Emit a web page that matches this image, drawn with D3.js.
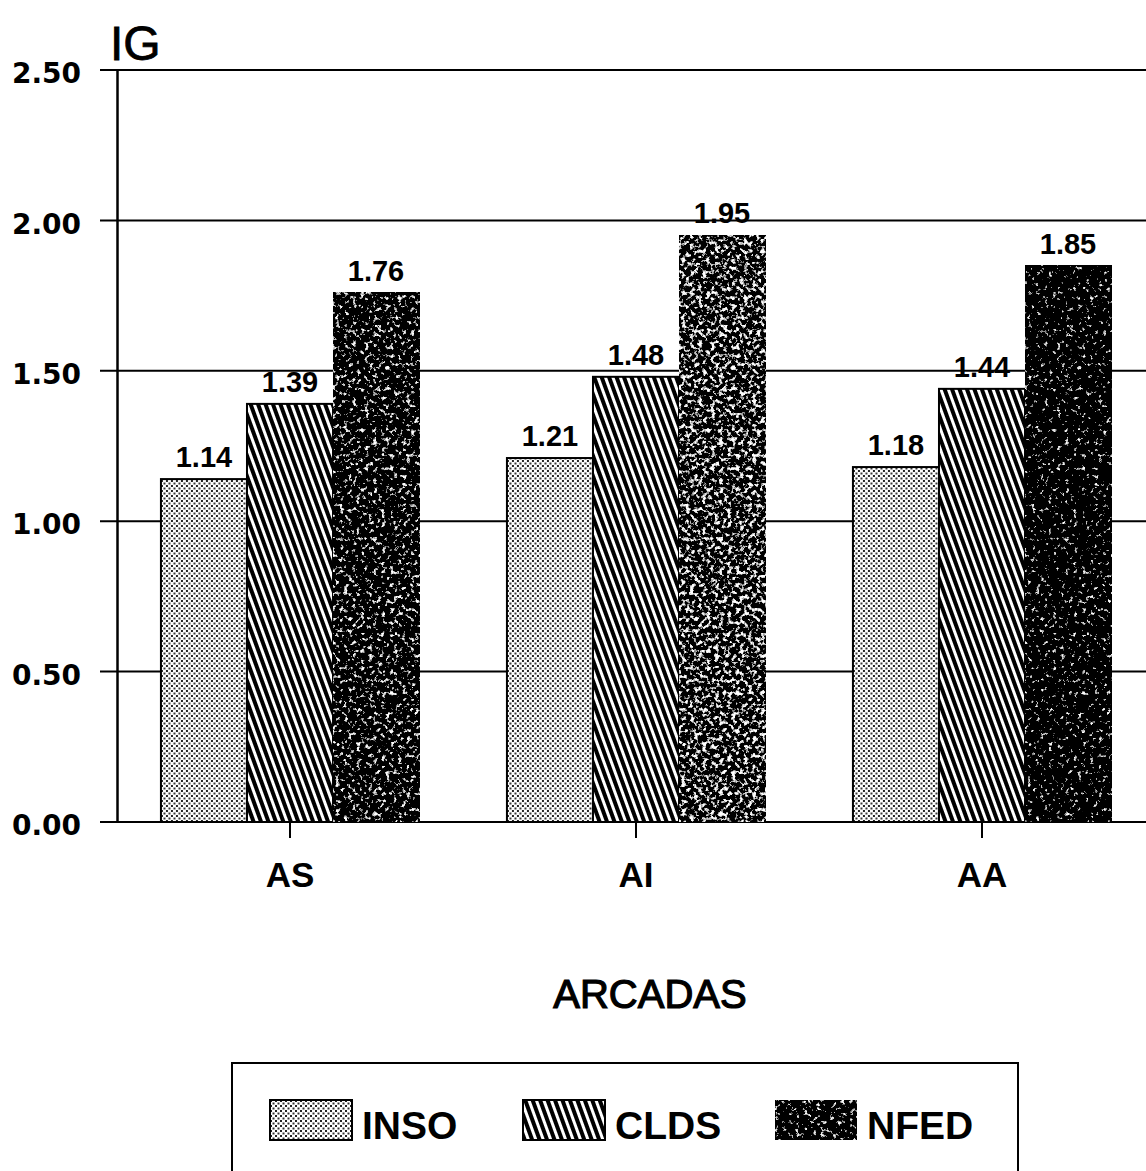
<!DOCTYPE html>
<html>
<head>
<meta charset="utf-8">
<script src="https://cdnjs.cloudflare.com/ajax/libs/d3/7.8.5/d3.min.js"></script>
<style>
  body { margin: 0; background: #fff; }
  text { font-family: "Liberation Sans", Arial, sans-serif; fill: #000; }
</style>
</head>
<body>
<div id="chart"></div>
<script>
// data
const categories = ["AS", "AI", "AA"];
const series = ["INSO", "CLDS", "NFED"];
const inso = [1.14, 1.21, 1.18];
const clds = [1.39, 1.48, 1.44];
const nfed = [1.76, 1.95, 1.85];
const yTicks = [0, 0.5, 1.0, 1.5, 2.0, 2.5];
const seriesValues = [inso, clds, nfed];

const W = 1146, H = 1171;
const svg = d3.select("#chart").append("svg")
    .attr("width", W).attr("height", H);

const defs = svg.append("defs");

// INSO: fine grey dots
const pDot = defs.append("pattern").attr("id", "pat-inso")
    .attr("patternUnits", "userSpaceOnUse").attr("width", 5).attr("height", 5);
pDot.append("rect").attr("width", 5).attr("height", 5).attr("fill", "#fff");
pDot.append("rect").attr("x", 0).attr("y", 0).attr("width", 2).attr("height", 2).attr("fill", "#222");
pDot.append("rect").attr("x", 2.5).attr("y", 2.5).attr("width", 2).attr("height", 2).attr("fill", "#333");

// CLDS: diagonal hatching "\\\"
const pHatch = defs.append("pattern").attr("id", "pat-clds")
    .attr("patternUnits", "userSpaceOnUse").attr("width", 7).attr("height", 10)
    .attr("patternTransform", "rotate(-20)");
pHatch.append("rect").attr("width", 7).attr("height", 10).attr("fill", "#fff");
pHatch.append("rect").attr("x", 0).attr("width", 4).attr("height", 10).attr("fill", "#000");

// NFED: black with white speckles (turbulence filter)
function speckle(id, threshold, freq) {
  const f = defs.append("filter").attr("id", id)
      .attr("x", 0).attr("y", 0).attr("width", 1).attr("height", 1);
  f.append("feTurbulence").attr("type", "fractalNoise")
      .attr("baseFrequency", freq).attr("numOctaves", 3).attr("seed", 7).attr("result", "n");
  f.append("feColorMatrix").attr("in", "n").attr("type", "matrix")
      .attr("values", `0 0 0 0 1  0 0 0 0 1  0 0 0 0 1  6 0 0 0 ${-6 * threshold}`)
      .attr("result", "w");
  f.append("feComposite").attr("in", "w").attr("in2", "SourceGraphic")
      .attr("operator", "in").attr("result", "s");
  const m = f.append("feMerge");
  m.append("feMergeNode").attr("in", "SourceGraphic");
  m.append("feMergeNode").attr("in", "s");
}
speckle("spk-AS", 0.59, 0.24);
speckle("spk-AI", 0.53, 0.24);
speckle("spk-AA", 0.64, 0.24);
speckle("spk-leg", 0.61, 0.24);

const fills = { INSO: "url(#pat-inso)", CLDS: "url(#pat-clds)", NFED: "#000" };

const x0 = d3.scaleBand().domain(categories).range([117, 1155])
    .paddingInner(0.254).paddingOuter(0.127);
const x1 = d3.scaleBand().domain(series).range([0, x0.bandwidth()]);
const y = d3.scaleLinear().domain([0, 2.5]).range([822, 70]);

// gridlines
svg.append("g").selectAll("line").data(yTicks).join("line")
    .attr("x1", 100).attr("x2", W)
    .attr("y1", d => y(d)).attr("y2", d => y(d))
    .attr("stroke", "#000").attr("stroke-width", 2);

// y axis
const yAxis = svg.append("g").attr("transform", "translate(117,0)")
    .call(d3.axisLeft(y).tickValues(yTicks).tickFormat(d3.format(".2f")).tickSize(0).tickPadding(36));
yAxis.select(".domain").attr("stroke", "#000").attr("stroke-width", 2.5);
yAxis.selectAll("text").attr("dy", "0.45em")
    .style("font-family", "'DejaVu Sans', sans-serif").style("font-size", "28px")
    .style("font-weight", "bold").style("fill", "#000");

// bars
const rows = categories.map((c, i) => ({ cat: c, vals: series.map((s, j) => ({ s, v: seriesValues[j][i], cat: c })) }));
const groups = svg.append("g").selectAll("g").data(rows).join("g")
    .attr("transform", d => `translate(${x0(d.cat)},0)`);

groups.selectAll("rect").data(d => d.vals).join("rect")
    .attr("x", d => x1(d.s)).attr("y", d => y(d.v))
    .attr("width", x1.bandwidth()).attr("height", d => y(0) - y(d.v))
    .attr("fill", d => fills[d.s])
    .attr("filter", d => d.s === "NFED" ? `url(#spk-${d.cat})` : null)
    .attr("stroke", "#000").attr("stroke-width", 2);

groups.selectAll("text").data(d => d.vals).join("text")
    .attr("x", d => x1(d.s) + x1.bandwidth() / 2).attr("y", d => y(d.v) - 12)
    .attr("text-anchor", "middle").attr("font-size", 29).attr("font-weight", "bold")
    .text(d => d.v.toFixed(2));

// x axis
const xAxis = svg.append("g").attr("transform", "translate(0,822)")
    .call(d3.axisBottom(x0).tickSize(16).tickPadding(24));
xAxis.select(".domain").remove();
xAxis.selectAll("line").attr("stroke", "#000").attr("stroke-width", 2);
xAxis.selectAll("text").attr("font-size", 35).attr("font-weight", "bold")
    .attr("font-family", "Liberation Sans, Arial, sans-serif").attr("fill", "#000");

// titles
svg.append("text").attr("x", 110).attr("y", 60).attr("font-size", 48)
    .attr("stroke", "#000").attr("stroke-width", 0.8).text("IG");
svg.append("text").attr("x", 650).attr("y", 1008).attr("text-anchor", "middle")
    .attr("font-size", 40).attr("stroke", "#000").attr("stroke-width", 1.2).text("ARCADAS");

// legend
svg.append("rect").attr("x", 232).attr("y", 1063).attr("width", 786).attr("height", 140)
    .attr("fill", "none").attr("stroke", "#000").attr("stroke-width", 2);
const legX = [270, 523, 775];
const leg = svg.append("g").selectAll("g").data(series).join("g")
    .attr("transform", (d, i) => `translate(${legX[i]},1100)`);
leg.append("rect").attr("width", 82).attr("height", 40)
    .attr("fill", d => fills[d])
    .attr("filter", d => d === "NFED" ? "url(#spk-leg)" : null)
    .attr("stroke", "#000").attr("stroke-width", 2);
leg.append("text").attr("x", 92).attr("y", 39).attr("font-size", 39).attr("font-weight", "bold")
    .text(d => d);
</script>
</body>
</html>
